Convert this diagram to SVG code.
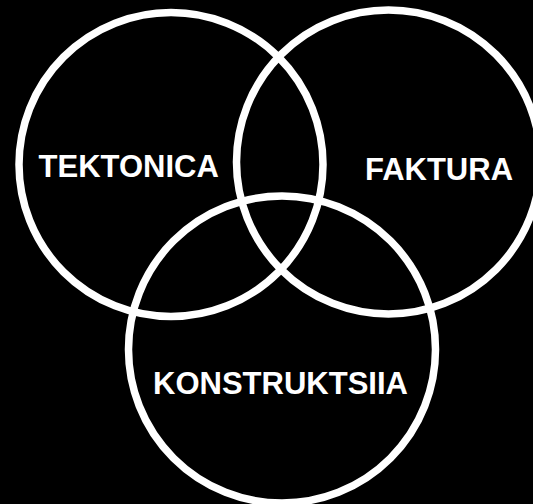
<svg xmlns="http://www.w3.org/2000/svg" width="533" height="504" viewBox="0 0 533 504">
<style>
.c{fill:none;stroke:#fff;stroke-width:7.5}
.t{fill:#fff;font-family:"Liberation Sans",Arial,sans-serif;font-weight:bold;font-size:31px;text-anchor:middle}
</style>
<rect width="533" height="504" fill="#000"/>
<g id="tektonica"><circle class="c" cx="171" cy="164.5" r="152"/><text class="t" x="128.7" y="177">TEKTONICA</text></g>
<g id="faktura"><circle class="c" cx="388.5" cy="162" r="152"/><text class="t" x="439" y="180">FAKTURA</text></g>
<g id="konstruktsiia"><circle class="c" cx="282" cy="349.5" r="153.5"/><text class="t" x="280.5" y="394">KONSTRUKTSIIA</text></g>
<g id="connectors"/>
</svg>
